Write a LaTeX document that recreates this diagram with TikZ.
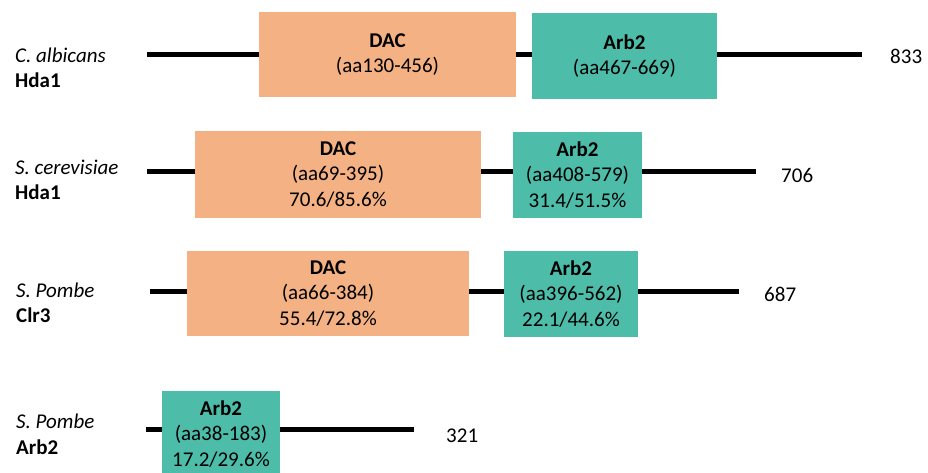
\documentclass[tikz,border=0pt]{standalone}
\usepackage{fontspec}
\setmainfont{Carlito}
\definecolor{dacfill}{HTML}{F4B183}
\definecolor{arbfill}{HTML}{4DBDAA}
\begin{document}
\begin{tikzpicture}[x=1pt,y=-1pt,
  every node/.style={font=\fontsize{21}{25.5}\selectfont, inner sep=0pt},
  domain/.style={align=center, minimum width=#1},
  dacbox/.style={domain=#1, fill=dacfill},
  arbbox/.style={domain=#1, fill=arbfill},
  chain/.style={line width=5pt},
  lbl/.style={anchor=base west}]
\useasboundingbox (0,0) rectangle (928,472);
\clip (0,0) rectangle (928,472);
% ---- row 1
\coordinate (s1) at (147,54);
\coordinate (e1) at (862,54);
\node[dacbox=257, minimum height=85] (d1) at (387.5,54.5) {\textbf{DAC}\\(aa130-456)};
\node[arbbox=185, minimum height=86] (a1) at (624.5,56) {\textbf{Arb2}\\(aa467-669)};
\draw[chain] (s1) -- (s1 -| d1.west);
\draw[chain] (d1.east |- s1) -- (s1 -| a1.west);
\draw[chain] (a1.east |- s1) -- (e1);
\node[lbl] (sp1) at (15,62) {\textit{C. albicans}};
\node[lbl] (pr1) at (15,87) {\textbf{Hda1}};
\node[lbl] (n1) at (890,63) {833};
% ---- row 2
\coordinate (s2) at (147,171.5);
\coordinate (e2) at (756,171.5);
\node[dacbox=286, minimum height=87] (d2) at (338,174.5) {\textbf{DAC}\\(aa69-395)\\70.6/85.6\%};
\node[arbbox=129, minimum height=86] (a2) at (577.5,175) {\textbf{Arb2}\\(aa408-579)\\31.4/51.5\%};
\draw[chain] (s2) -- (s2 -| d2.west);
\draw[chain] (d2.east |- s2) -- (s2 -| a2.west);
\draw[chain] (a2.east |- s2) -- (e2);
\node[lbl] (sp2) at (15,174) {\textit{S. cerevisiae}};
\node[lbl] (pr2) at (15,199) {\textbf{Hda1}};
\node[lbl] (n2) at (781,182) {706};
% ---- row 3
\coordinate (s3) at (150,291);
\coordinate (e3) at (739,291);
\node[dacbox=282, minimum height=85] (d3) at (328,293.5) {\textbf{DAC}\\(aa66-384)\\55.4/72.8\%};
\node[arbbox=134, minimum height=86] (a3) at (571,294) {\textbf{Arb2}\\(aa396-562)\\22.1/44.6\%};
\draw[chain] (s3) -- (s3 -| d3.west);
\draw[chain] (d3.east |- s3) -- (s3 -| a3.west);
\draw[chain] (a3.east |- s3) -- (e3);
\node[lbl] (sp3) at (16,297) {\textit{S. Pombe}};
\node[lbl] (pr3) at (16,322) {\textbf{Clr3}};
\node[lbl] (n3) at (764,301) {687};
% ---- row 4
\coordinate (s4) at (146,429);
\coordinate (e4) at (414,429);
\node[arbbox=118, minimum height=86] (a4) at (221,434) {\textbf{Arb2}\\(aa38-183)\\17.2/29.6\%};
\draw[chain] (s4) -- (s4 -| a4.west);
\draw[chain] (a4.east |- s4) -- (e4);
\node[lbl] (sp4) at (16,428) {\textit{S. Pombe}};
\node[lbl] (pr4) at (16,454) {\textbf{Arb2}};
\node[lbl] (n4) at (446,442) {321};
\end{tikzpicture}
\end{document}
